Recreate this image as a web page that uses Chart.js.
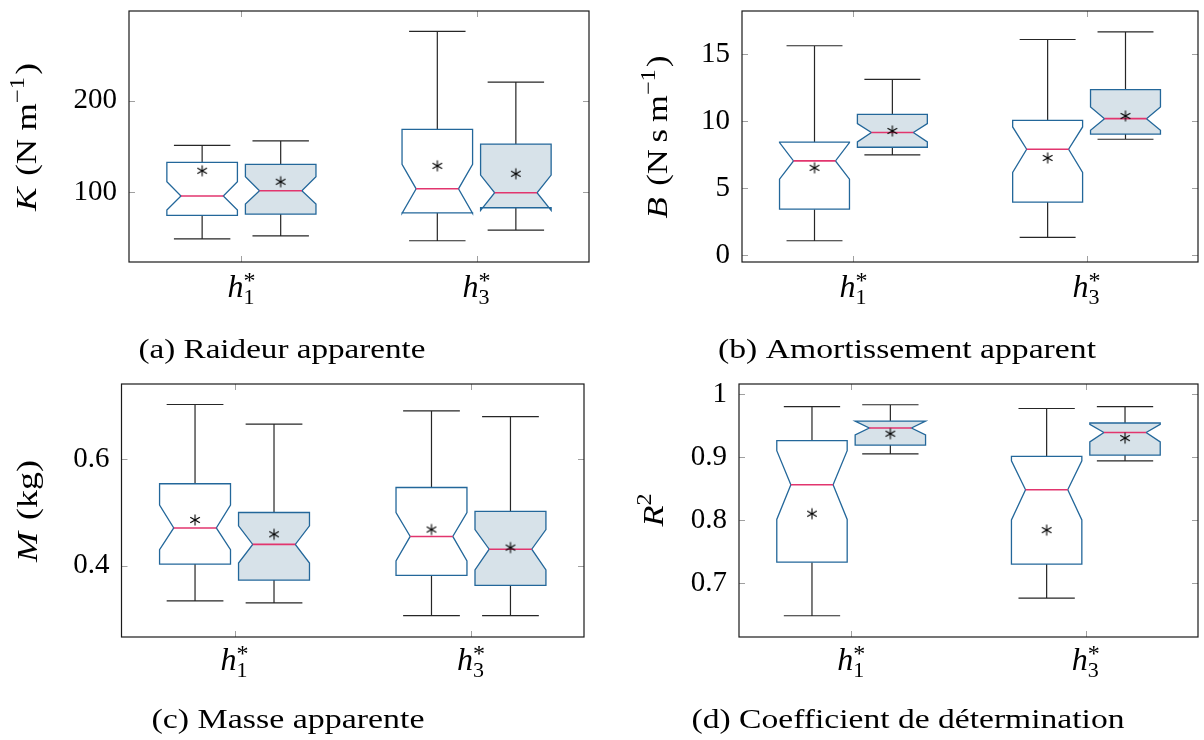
<!DOCTYPE html>
<html>
<head>
<meta charset="utf-8">
<script src="https://cdn.jsdelivr.net/npm/chart.js@4.4.0/dist/chart.umd.min.js"></script>
<style>
body { margin: 0; background: #fff; }
#fig { position: relative; width: 1204px; height: 740px; overflow: hidden; }
.panneau { position: absolute; }
</style>
</head>
<body>
<div id="fig">
    <div class="panneau" style="left:0;top:0"><canvas id="cA" width="600" height="370"></canvas></div>
    <div class="panneau" style="left:600px;top:0"><canvas id="cB" width="604" height="370"></canvas></div>
    <div class="panneau" style="left:0;top:370px"><canvas id="cC" width="600" height="370"></canvas></div>
    <div class="panneau" style="left:600px;top:370px"><canvas id="cD" width="604" height="370"></canvas></div>
</div>
<script>
// catégories (h1*, h3*) et leur position sur l'axe x
const indicesCategories = ['1', '3'];
const positions = [1, 2];

// boîtes : [min, q1, médiane, q3, max, encoche basse, encoche haute], une par catégorie
const raideurBlanc = [[49.3, 74.9, 96, 132.8, 151.3, 80.7, 111.6], [47.2, 77.7, 103.9, 168.8, 275.8, 77.2, 130.6]];
const raideurBleu  = [[52.6, 76.3, 101.8, 130.6, 156.3, 87.2, 117], [58.8, 83.2, 99.6, 152.7, 220.4, 80.3, 118.9]];
const raideurMoyBlanc = [123.6, 129];
const raideurMoyBleu  = [111.6, 120.3];
const raideurTicks = [100, 200];

const amortBlanc = [[1.07, 3.43, 7.04, 8.45, 15.65, 5.67, 8.41], [1.32, 3.96, 7.91, 10.07, 16.12, 6.17, 9.58]];
const amortBleu  = [[7.49, 8.06, 9.16, 10.52, 13.13, 8.46, 9.83], [8.66, 9.05, 10.2, 12.37, 16.69, 9.33, 11.07]];
const amortMoyBlanc = [6.52, 7.26];
const amortMoyBleu  = [9.28, 10.4];
const amortTicks = [0, 5, 10, 15];

const masseBlanc = [[0.334, 0.403, 0.471, 0.554, 0.703, 0.430, 0.514], [0.306, 0.382, 0.455, 0.547, 0.691, 0.409, 0.500]];
const masseBleu  = [[0.330, 0.373, 0.440, 0.500, 0.666, 0.405, 0.475], [0.306, 0.363, 0.431, 0.502, 0.680, 0.392, 0.468]];
const masseMoyBlanc = [0.486, 0.468];
const masseMoyBleu  = [0.459, 0.434];
const masseTicks = [0.4, 0.6];

const r2Blanc = [[0.648, 0.733, 0.856, 0.926, 0.980, 0.801, 0.910], [0.676, 0.730, 0.848, 0.901, 0.977, 0.800, 0.894]];
const r2Bleu  = [[0.905, 0.919, 0.946, 0.957, 0.983, 0.935, 0.957], [0.894, 0.903, 0.939, 0.954, 0.980, 0.924, 0.952]];
const r2MoyBlanc = [0.810, 0.784];
const r2MoyBleu  = [0.937, 0.930];
const r2Ticks = [0.7, 0.8, 0.9, 1];

const LARG = 0.3;     // largeur d'une boîte (unités x)
const DECAL = 0.167;  // décalage des boîtes autour de la catégorie
const POLICE = '"Liberation Serif", serif';

// marqueur astérisque à 6 branches pour la moyenne
const asterisque = document.createElement('canvas');
asterisque.width = 14; asterisque.height = 14;
(function () {
    const c = asterisque.getContext('2d');
    c.strokeStyle = '#000';
    c.lineWidth = 1.1;
    for (let k = 0; k < 3; k++) {
        const a = Math.PI / 2 + k * Math.PI / 3;
        c.beginPath();
        c.moveTo(7 - 5.5 * Math.cos(a), 7 - 5.5 * Math.sin(a));
        c.lineTo(7 + 5.5 * Math.cos(a), 7 + 5.5 * Math.sin(a));
        c.stroke();
    }
})();

function police(s) {
    return (s.i ? 'italic ' : '') + (s.taille || 30) + 'px ' + POLICE;
}

// écrit un texte riche centré en cx, ligne de base y ; étiré à la largeur demandée
function ecrire(ctx, segs, cx, y, largeur) {
    let w = 0, pile = 0;
    const mes = segs.map(s => {
        ctx.font = police(s);
        const m = ctx.measureText(s.t).width;
        w += s.gap || 0;
        if (s.pile) pile = Math.max(pile, m);
        else { w += Math.max(m, pile); pile = 0; }
        return m;
    });
    const sx = largeur ? largeur / w : 1;
    ctx.save();
    ctx.translate(cx, y);
    ctx.scale(sx, 1);
    let x = -w / 2;
    pile = 0;
    segs.forEach((s, i) => {
        ctx.font = police(s);
        x += s.gap || 0;
        ctx.fillText(s.t, x, s.dy || 0);
        if (s.pile) pile = Math.max(pile, mes[i]);
        else { x += Math.max(mes[i], pile); pile = 0; }
    });
    ctx.restore();
}

function tracerBoite(ctx, xs, ys, centre, b, rempli) {
    const [mn, q1, med, q3, mx, nLo, nHi] = b;
    const y = v => ys.getPixelForValue(v);
    const x0 = xs.getPixelForValue(centre - LARG / 2);
    const x1 = xs.getPixelForValue(centre + LARG / 2);
    const xc = xs.getPixelForValue(centre);
    const enc = (x1 - x0) * 0.2;
    const cap = (x1 - x0) * 0.4;

    // moustaches
    ctx.strokeStyle = '#262626';
    ctx.lineWidth = 1.2;
    ctx.beginPath();
    ctx.moveTo(xc, y(q3)); ctx.lineTo(xc, y(mx));
    ctx.moveTo(xc - cap, y(mx)); ctx.lineTo(xc + cap, y(mx));
    ctx.moveTo(xc, y(q1)); ctx.lineTo(xc, y(mn));
    ctx.moveTo(xc - cap, y(mn)); ctx.lineTo(xc + cap, y(mn));
    ctx.stroke();

    // boîte à encoches
    ctx.beginPath();
    ctx.moveTo(x0, y(q3));
    ctx.lineTo(x0, y(nHi));
    ctx.lineTo(x0 + enc, y(med));
    ctx.lineTo(x0, y(nLo));
    ctx.lineTo(x0, y(q1));
    ctx.lineTo(x1, y(q1));
    ctx.lineTo(x1, y(nLo));
    ctx.lineTo(x1 - enc, y(med));
    ctx.lineTo(x1, y(nHi));
    ctx.lineTo(x1, y(q3));
    ctx.closePath();
    ctx.fillStyle = rempli ? '#d7e2e9' : '#ffffff';
    ctx.fill();
    ctx.strokeStyle = '#23679a';
    ctx.lineWidth = 1.3;
    ctx.stroke();

    // médiane
    ctx.strokeStyle = '#e2356e';
    ctx.lineWidth = 1.6;
    ctx.beginPath();
    ctx.moveTo(x0 + enc, y(med));
    ctx.lineTo(x1 - enc, y(med));
    ctx.stroke();
}

const boites = {
    id: 'boites',
    beforeDatasetsDraw(chart, args, o) {
        const ctx = chart.ctx, xs = chart.scales.x, ys = chart.scales.y;
        ctx.save();
        positions.forEach((p, i) => {
            tracerBoite(ctx, xs, ys, p - DECAL, o.blanc[i], false);
            tracerBoite(ctx, xs, ys, p + DECAL, o.bleu[i], true);
        });
        ctx.restore();
    },
    afterDraw(chart, args, o) {
        const ctx = chart.ctx, xs = chart.scales.x, ys = chart.scales.y;
        const { left, right, top, bottom } = chart.chartArea;
        ctx.save();
        // graduations intérieures
        ctx.strokeStyle = '#a0a0a0';
        ctx.lineWidth = 1;
        ctx.beginPath();
        ys.ticks.forEach(t => {
            const py = Math.round(ys.getPixelForValue(t.value)) + 0.5;
            ctx.moveTo(left, py); ctx.lineTo(left + 6, py);
            ctx.moveTo(right, py); ctx.lineTo(right - 6, py);
        });
        positions.forEach(p => {
            const px = Math.round(xs.getPixelForValue(p)) + 0.5;
            ctx.moveTo(px, bottom); ctx.lineTo(px, bottom - 6);
            ctx.moveTo(px, top); ctx.lineTo(px, top + 6);
        });
        ctx.stroke();
        // cadre
        ctx.strokeStyle = '#1a1a1a';
        ctx.lineWidth = 1.2;
        ctx.strokeRect(left, top, right - left, bottom - top);

        ctx.fillStyle = '#000';
        ctx.textBaseline = 'alphabetic';
        ctx.textAlign = 'left';
        // titre de l'axe y
        ctx.save();
        ctx.translate(o.titreX, o.titreY);
        ctx.rotate(-Math.PI / 2);
        ecrire(ctx, o.titre, 0, 0, o.titreL);
        ctx.restore();
        // étiquettes h1*, h3*
        positions.forEach((p, i) => {
            ecrire(ctx, [
                { t: 'h', i: true, taille: 32 },
                { t: indicesCategories[i], taille: 22, dy: 6.5, pile: true },
                { t: '*', taille: 24, dy: -9 }
            ], xs.getPixelForValue(p), o.etiqY);
        });
        // légende de la sous-figure
        ecrire(ctx, [{ t: o.legende, taille: 27 }], o.legX, o.legY, o.legL);
        ctx.restore();
    }
};

function creerPanneau(id, cadre, ymin, ymax, ticks, blanc, bleu, moyBlanc, moyBleu, textes) {
    const canvas = document.getElementById(id);
    const W = 90;
    const pas = ticks[1] - ticks[0];
    new Chart(canvas, {
        type: 'scatter',
        data: {
            datasets: [
                { data: positions.map((p, i) => ({ x: p - DECAL, y: moyBlanc[i] })), pointStyle: asterisque },
                { data: positions.map((p, i) => ({ x: p + DECAL, y: moyBleu[i] })), pointStyle: asterisque }
            ]
        },
        options: {
            responsive: false,
            devicePixelRatio: 1,
            animation: false,
            events: [],
            layout: {
                padding: {
                    left: cadre.l - W,
                    top: cadre.t,
                    right: canvas.width - cadre.r,
                    bottom: canvas.height - cadre.b
                }
            },
            scales: {
                x: { type: 'linear', min: 0.522, max: 2.478, display: false },
                y: {
                    type: 'linear',
                    min: ymin,
                    max: ymax,
                    afterFit: s => {
                        s.width = W;
                        s.paddingTop = 0; s.paddingBottom = 0;
                        s.paddingLeft = 0; s.paddingRight = 0;
                    },
                    grid: { display: false, drawTicks: false },
                    border: { display: false },
                    ticks: {
                        stepSize: pas,
                        includeBounds: false,
                        padding: 12,
                        color: '#000',
                        font: { family: POLICE, size: 29 },
                        callback: v => String(Math.round(v * 100) / 100)
                    }
                }
            },
            plugins: {
                legend: { display: false },
                tooltip: { enabled: false },
                boites: Object.assign({ blanc: blanc, bleu: bleu }, textes)
            }
        },
        plugins: [boites]
    });
}

creerPanneau('cA', { l: 129, r: 589, t: 11, b: 262 }, 24, 298, raideurTicks,
    raideurBlanc, raideurBleu, raideurMoyBlanc, raideurMoyBleu, {
        titre: [{ t: 'K', i: true }, { t: '(N', gap: 10 }, { t: 'm', gap: 7 }, { t: '−1', taille: 21, dy: -12 }, { t: ')', gap: 2 }],
        titreX: 36, titreY: 137, titreL: 148,
        etiqY: 297, legende: '(a) Raideur apparente', legX: 282, legY: 358, legL: 287
    });

creerPanneau('cB', { l: 142, r: 598, t: 11, b: 262 }, -0.52, 18.25, amortTicks,
    amortBlanc, amortBleu, amortMoyBlanc, amortMoyBleu, {
        titre: [{ t: 'B', i: true }, { t: '(N', gap: 10 }, { t: 's', gap: 6 }, { t: 'm', gap: 6 }, { t: '−1', taille: 21, dy: -12 }, { t: ')', gap: 2 }],
        titreX: 67, titreY: 137, titreL: 163,
        etiqY: 297, legende: '(b) Amortissement apparent', legX: 307, legY: 358, legL: 378
    });

creerPanneau('cC', { l: 121.5, r: 584, t: 14, b: 267 }, 0.266, 0.7415, masseTicks,
    masseBlanc, masseBleu, masseMoyBlanc, masseMoyBleu, {
        titre: [{ t: 'M', i: true }, { t: '(kg)', gap: 10 }],
        titreX: 37, titreY: 141, titreL: 102,
        etiqY: 300, legende: '(c) Masse apparente', legX: 288, legY: 358, legL: 273
    });

creerPanneau('cD', { l: 139, r: 598, t: 14, b: 267 }, 0.6143, 1.0159, r2Ticks,
    r2Blanc, r2Bleu, r2MoyBlanc, r2MoyBleu, {
        titre: [{ t: 'R', i: true }, { t: '2', taille: 21, dy: -12 }],
        titreX: 63, titreY: 140, titreL: 33,
        etiqY: 300, legende: '(d) Coefficient de détermination', legX: 308, legY: 358, legL: 433
    });
</script>
</body>
</html>
